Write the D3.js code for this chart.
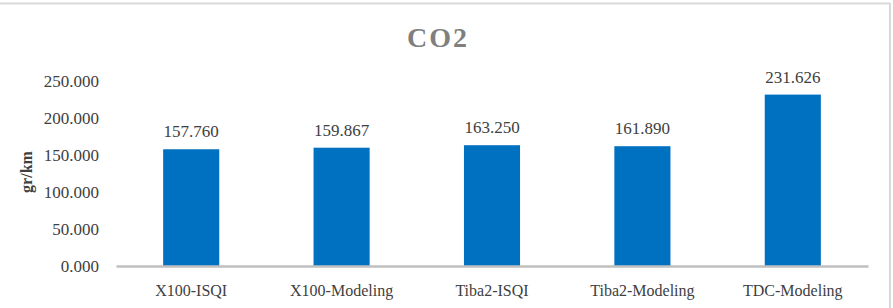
<!DOCTYPE html>
<html>
<head>
<meta charset="utf-8">
<script src="https://cdn.jsdelivr.net/npm/d3@7"></script>
<style>
  body { margin: 0; background: #fff; }
  svg text { font-family: "Liberation Serif", "Times New Roman", Times, "DejaVu Serif", serif !important; }
</style>
</head>
<body>
<div id="chart"></div>
<script>
// Chart data
var categories = ['X100-ISQI', 'X100-Modeling', 'Tiba2-ISQI', 'Tiba2-Modeling', 'TDC-Modeling'];
var values     = [157.760, 159.867, 163.250, 161.890, 231.626];
var yTicks     = [0, 50, 100, 150, 200, 250];

var W = 893, H = 308;
var margin = {top: 81, right: 25, bottom: 42, left: 116};
var plotW = W - margin.left - margin.right;
var plotH = H - margin.top - margin.bottom;

var svg = d3.select('#chart').append('svg')
  .attr('width', W)
  .attr('height', H);

// Outer frame (top and right edges visible)
svg.append('line')
  .attr('x1', 0).attr('x2', 890).attr('y1', 3.5).attr('y2', 3.5)
  .attr('stroke', '#d9d9d9').attr('stroke-width', 2);
svg.append('line')
  .attr('x1', 890).attr('x2', 890).attr('y1', 3).attr('y2', H)
  .attr('stroke', '#d9d9d9').attr('stroke-width', 2);

// Title
svg.append('text')
  .attr('x', 438).attr('y', 47)
  .attr('text-anchor', 'middle')
  .style('font-size', '28px')
  .style('font-weight', 'bold')
  .style('letter-spacing', '2px')
  .style('fill', '#7f7f7f')
  .text('CO2');

var g = svg.append('g')
  .attr('transform', `translate(${margin.left}, ${margin.top})`);

// Scales
var x = d3.scaleBand()
  .domain(categories)
  .range([0, plotW])
  .paddingInner(0.627)
  .paddingOuter(0.3135);
var y = d3.scaleLinear()
  .domain([0, 250])
  .range([plotH, 0]);

// Y axis labels only, no line
var yAxis = d3.axisLeft(y)
  .tickValues(yTicks)
  .tickSize(0)
  .tickPadding(17)
  .tickFormat(d3.format('.3f'));
var yg = g.append('g').call(yAxis);
yg.attr('font-family', null);
yg.select('.domain').remove();
yg.selectAll('text')
  .style('font-size', '17px')
  .style('fill', '#404040');

// Bars
g.selectAll('rect.bar')
  .data(values)
  .enter().append('rect')
  .attr('class', 'bar')
  .attr('x', (d, i) => x(categories[i]))
  .attr('width', x.bandwidth())
  .attr('y', (d) => y(d))
  .attr('height', (d) => plotH - y(d))
  .style('fill', '#0070c0');

// Value labels
g.selectAll('text.label')
  .data(values)
  .enter().append('text')
  .attr('class', 'label')
  .attr('x', (d, i) => x(categories[i]) + x.bandwidth() / 2)
  .attr('y', (d) => y(d) - 12)
  .attr('text-anchor', 'middle')
  .style('font-size', '17px')
  .style('fill', '#404040')
  .text((d) => d3.format('.3f')(d));

// X axis
var xAxis = d3.axisBottom(x).tickSize(0).tickPadding(19);
var xg = g.append('g')
  .attr('transform', `translate(0, ${plotH})`)
  .call(xAxis);
xg.attr('font-family', null);
xg.select('.domain')
  .attr('stroke', '#bfbfbf')
  .attr('stroke-width', 2.5);
xg.selectAll('text')
  .style('font-size', '16px')
  .style('fill', '#404040');

// Y axis title
svg.append('text')
  .attr('transform', 'translate(32, 172) rotate(-90)')
  .attr('text-anchor', 'middle')
  .style('font-size', '16px')
  .style('font-weight', 'bold')
  .style('fill', '#404040')
  .text('gr/km');
</script>
</body>
</html>
